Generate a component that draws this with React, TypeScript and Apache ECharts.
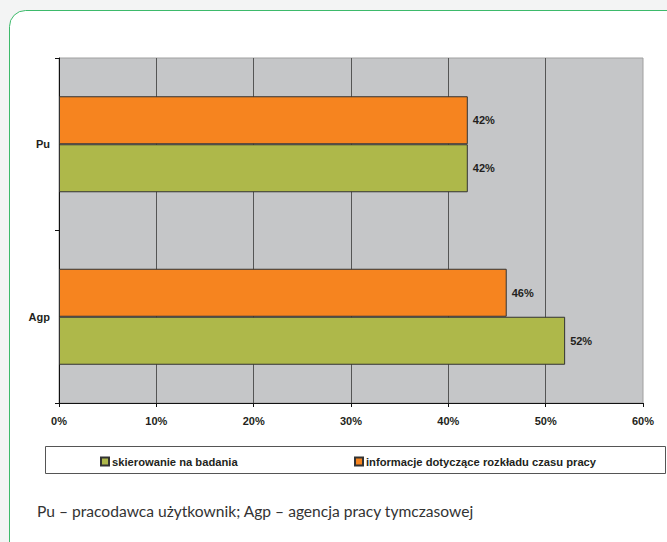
import React, { useEffect, useRef } from "react";
import * as echarts from "echarts";

const categories = ["Agp", "Pu"];
const seriesNames = ["skierowanie na badania", "informacje dotyczące rozkładu czasu pracy"];
const greenValues = [52, 42];
const orangeValues = [46, 42];
const xTicks = [0, 10, 20, 30, 40, 50, 60];
const caption = "Pu – pracodawca użytkownik; Agp – agencja pracy tymczasowej";

const GREEN = "#aeb84a";
const ORANGE = "#f6841f";
const FONT = "'Liberation Sans', Arial, sans-serif";

export default function App() {
  const ref = useRef<HTMLDivElement>(null);
  useEffect(() => {
    if (!ref.current) return;
    const chart = echarts.init(ref.current, null, { renderer: "svg" });
    const labelStyle = {
      show: true,
      position: "right" as const,
      distance: 5,
      formatter: "{c}%",
      fontFamily: FONT,
      fontWeight: "bold" as const,
      fontSize: 11,
      color: "#231f20",
    };
    const legendText = {
      fontFamily: FONT,
      fontWeight: "bold" as const,
      fontSize: 11.2,
      color: "#231f20",
      padding: [0, 0, 0, -2],
    };
    chart.setOption({
      animation: false,
      backgroundColor: "#f3f4f4",
      textStyle: { fontFamily: FONT },
      graphic: [
        {
          type: "rect",
          z: -10,
          shape: { x: 9.5, y: 10.5, width: 700, height: 560, r: 16 },
          style: { fill: "#ffffff", stroke: "#3dba6b", lineWidth: 1 },
        },
        {
          type: "rect",
          z: -5,
          shape: { x: 45.5, y: 446.5, width: 620, height: 27 },
          style: { fill: "#ffffff", stroke: "#555555", lineWidth: 1 },
        },
        {
          type: "text",
          x: 37,
          y: 511,
          style: {
            text: caption,
            font: "15.6px Lato, 'Open Sans', sans-serif",
            fill: "#333333",
            verticalAlign: "middle",
          },
        },
      ],
      legend: [
        {
          data: [seriesNames[0]],
          left: 95,
          top: 451,
          itemWidth: 8,
          itemHeight: 8,
          icon: "rect",
          textStyle: legendText,
        },
        {
          data: [seriesNames[1]],
          left: 349,
          top: 451,
          itemWidth: 8,
          itemHeight: 8,
          icon: "rect",
          textStyle: legendText,
        },
      ],
      grid: {
        left: 59,
        right: 24,
        top: 58,
        bottom: 139,
        show: true,
        backgroundColor: "#c5c6c8",
        borderColor: "#a0a0a0",
        borderWidth: 1,
      },
      xAxis: {
        type: "value",
        min: xTicks[0],
        max: xTicks[xTicks.length - 1],
        interval: 10,
        axisLine: { show: true, lineStyle: { color: "#111", width: 1 } },
        axisTick: { show: true, length: 4, lineStyle: { color: "#111" } },
        axisLabel: {
          formatter: "{value}%",
          fontFamily: FONT,
          fontWeight: "bold",
          fontSize: 11,
          color: "#231f20",
          margin: 12,
        },
        splitLine: { show: true, showMinLine: false, showMaxLine: false, lineStyle: { color: "#555", width: 1 } },
      },
      yAxis: {
        type: "category",
        data: categories,
        axisLine: { show: true, lineStyle: { color: "#111", width: 1 } },
        axisTick: { show: true, length: 4, lineStyle: { color: "#111" } },
        axisLabel: {
          fontFamily: FONT,
          fontWeight: "bold",
          fontSize: 11,
          color: "#231f20",
          margin: 9,
        },
      },
      series: [
        {
          name: seriesNames[1],
          type: "bar",
          data: orangeValues,
          barWidth: 48,
          barGap: "0%",
          itemStyle: { color: ORANGE, borderColor: "#333", borderWidth: 1 },
          label: labelStyle,
        },
        {
          name: seriesNames[0],
          type: "bar",
          data: greenValues,
          barWidth: 48,
          barGap: "0%",
          itemStyle: { color: GREEN, borderColor: "#333", borderWidth: 1 },
          label: labelStyle,
        },
      ],
    });
    return () => chart.dispose();
  }, []);
  return (
    <div
      ref={ref}
      style={{ position: "fixed", left: 0, top: 0, width: 667, height: 542 }}
    />
  );
}
